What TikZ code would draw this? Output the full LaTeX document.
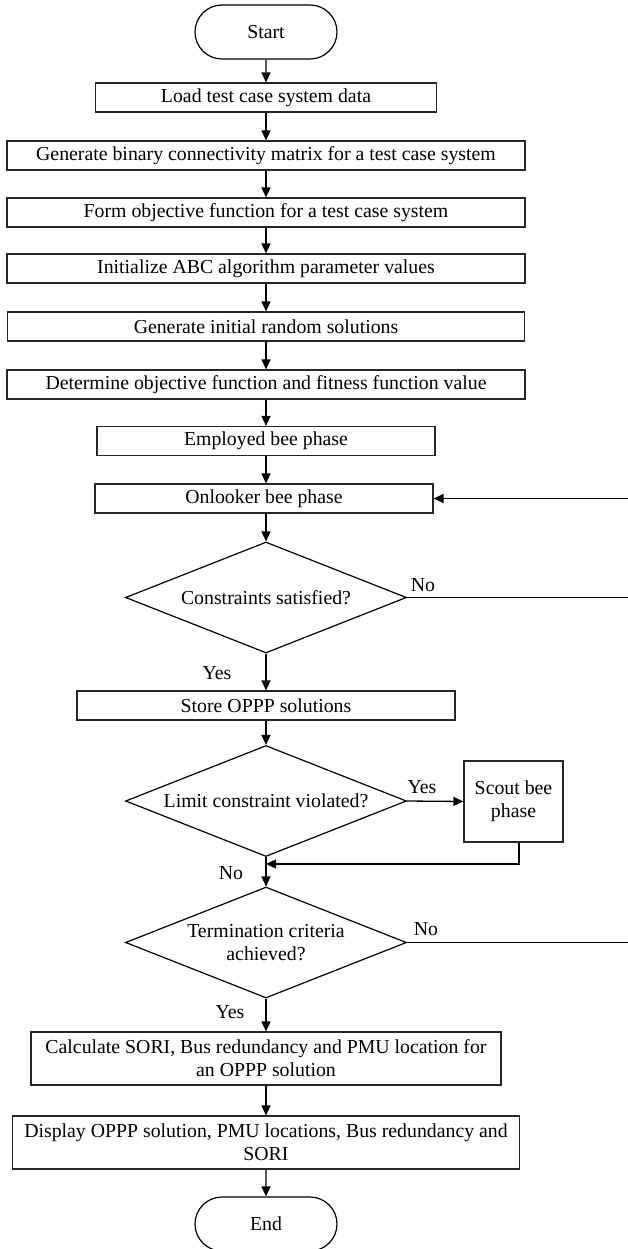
\documentclass[tikz,border=0pt]{standalone}
\usepackage{fontspec}
\setmainfont{Liberation Serif}
\usetikzlibrary{
    arrows.meta,
    shapes.geometric,
    shapes.misc
}
\newcommand{\mainx}{266}
\newcommand{\chartfont}{\fontsize{19.8}{23}\selectfont}
\tikzset{
    process/.style={
        draw=black!85,
        line width=1.2pt,
        minimum height=29pt,
        inner sep=0pt,
        align=center
    },
    terminal/.style={
        draw=black,
        rounded rectangle,
        line width=1.2pt,
        minimum width=142pt,
        minimum height=54pt,
        inner sep=0pt
    },
    decision/.style={
        draw=black,
        diamond,
        aspect=2.5,
        line width=1.2pt,
        minimum width=281pt,
        minimum height=111pt,
        inner sep=0pt,
        align=center
    },
    flow/.style={
        -{Triangle[length=10pt, width=9pt]},
        line width=1.3pt
    },
    link/.style={
        line width=1.3pt
    },
    branch label/.style={
        font=\chartfont
    }
}

\begin{document}
\begin{tikzpicture}[x=1pt, y=-1pt, font=\chartfont]

    \useasboundingbox (0,0) rectangle (628,1249);

    % -------------------------------------------------------------------------
    % Set-up of the test case and of the ABC algorithm.
    % -------------------------------------------------------------------------
    \node[terminal] (start) at (\mainx,32) {Start};
    \node[process, minimum width=341pt] (load) at (\mainx,97.5)
        {Load test case system data};
    \node[process, minimum width=518pt] (matrix) at (\mainx,155.5)
        {Generate binary connectivity matrix for a test case system};
    \node[process, minimum width=518pt] (objective) at (\mainx,212.5)
        {Form objective function for a test case system};
    \node[process, minimum width=518pt] (params) at (\mainx,268.5)
        {Initialize ABC algorithm parameter values};
    \node[process, minimum width=517pt] (random) at (\mainx,326.5)
        {Generate initial random solutions};
    \node[process, minimum width=518pt] (fitness) at (\mainx,384.5)
        {Determine objective function and fitness function value};

    % -------------------------------------------------------------------------
    % Bee phases and checks.
    % -------------------------------------------------------------------------
    \node[process, minimum width=338pt] (employed) at (\mainx,441)
        {Employed bee phase};
    \node[process, minimum width=338pt] (onlooker) at (264,498.5)
        {Onlooker bee phase};
    \node[decision] (constraints) at (\mainx,597.5)
        {Constraints satisfied?};
    \node[process, minimum width=378pt] (store) at (\mainx,705.5)
        {Store OPPP solutions};
    \node[decision] (limit) at (\mainx,801)
        {Limit constraint violated?};
    \node[process, minimum width=99pt, minimum height=81pt] (scout)
        at (513.5,801.5) {Scout bee\\phase};
    \node[decision] (termination) at (\mainx,942.5)
        {Termination criteria\\achieved?};

    % -------------------------------------------------------------------------
    % Results.
    % -------------------------------------------------------------------------
    \node[process, minimum width=470pt, minimum height=53pt] (sori)
        at (\mainx,1058.5)
        {Calculate SORI, Bus redundancy and PMU location for\\an OPPP solution};
    \node[process, minimum width=507pt, minimum height=53pt] (display)
        at (\mainx,1142.5)
        {Display OPPP solution, PMU locations, Bus redundancy and\\SORI};
    \node[terminal] (end) at (\mainx,1224) {End};

    % Loose ends at the right border.
    \coordinate (loopin) at (628,498.5);
    \coordinate (constraintsout) at (628,597.5);
    \coordinate (terminationout) at (628,942.5);
    \coordinate (scoutjoin) at (\mainx,864);

    % Main column.
    \draw[flow] (start) -- (load);
    \draw[flow] (load) -- (matrix);
    \draw[flow] (matrix) -- (objective);
    \draw[flow] (objective) -- (params);
    \draw[flow] (params) -- (random);
    \draw[flow] (random) -- (fitness);
    \draw[flow] (fitness) -- (employed);
    \draw[flow] (employed.south -| \mainx,0) -- (onlooker.north -| \mainx,0);
    \draw[flow] (onlooker.south -| \mainx,0) -- (constraints);
    \draw[flow] (constraints) -- (store);
    \draw[flow] (store) -- (limit);
    \draw[flow] (limit) -- (termination);
    \draw[flow] (termination) -- (sori);
    \draw[flow] (sori) -- (display);
    \draw[flow] (display) -- (end);

    % Branches.
    \draw[link] (constraints.east) -- (constraintsout);
    \draw[link] (termination.east) -- (terminationout);
    \draw[flow] (loopin) -- (onlooker.east);
    \draw[flow] (limit.east) -- (scout.west);
    \draw[flow] ([xshift=5.5pt]scout.south) |- (scoutjoin);

    \node[branch label] (nocons) at (423,585) {No};
    \node[branch label] (yescons) at (217,673) {Yes};
    \node[branch label] (yeslimit) at (422,787) {Yes};
    \node[branch label] (nolimit) at (231,873) {No};
    \node[branch label] (noterm) at (426,929) {No};
    \node[branch label] (yesterm) at (230,1012) {Yes};

\end{tikzpicture}
\end{document}
